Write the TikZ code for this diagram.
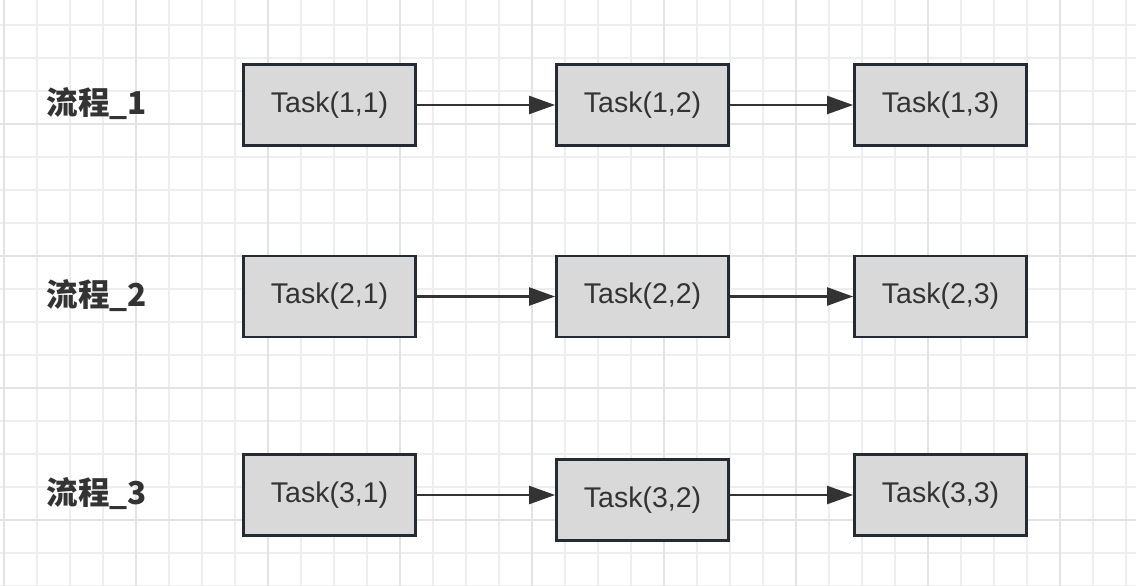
\documentclass[tikz,border=0pt]{standalone}
\usepackage{fontspec}
\setmainfont{Liberation Sans}
\newfontfamily\cjk{Noto Sans CJK SC}
\usetikzlibrary{arrows.meta}
\definecolor{gridminor}{HTML}{EEEEEE}
\definecolor{gridmajor}{HTML}{E3E3E3}
\definecolor{boxfill}{HTML}{D9D9D9}
\definecolor{boxborder}{HTML}{252B32}
\definecolor{textc}{HTML}{333333}
\definecolor{arrowc}{HTML}{333333}
\begin{document}
\begin{tikzpicture}[x=1pt,y=-1pt,
  task/.style={draw=boxborder, fill=boxfill, line width=2.8pt, minimum width=172pt, minimum height=81pt, inner sep=0pt, font=\fontsize{28.5}{31}\selectfont, text=textc},
  flow/.style={font=\cjk\bfseries\fontsize{31.5}{35}\selectfont, text=textc},
  link/.style={draw=arrowc, line width=2.3pt, -{Triangle[length=26pt,width=18pt]}},
  minorline/.style={draw=gridminor, line width=1.5pt},
  majorline/.style={draw=gridmajor, line width=2pt}]
\useasboundingbox (0,0) rectangle (1136,586);
\fill[white] (0,0) rectangle (1136,586);
% grid
\foreach \i in {0,...,34} { \draw[minorline] ({4+33*\i},0) -- ({4+33*\i},586); }
\foreach \j in {0,...,17} { \draw[minorline] (0,{25+33*\j}) -- (1136,{25+33*\j}); }
\foreach \i in {0,...,8} { \draw[majorline] ({4+132*\i},0) -- ({4+132*\i},586); }
\foreach \j in {124,256,388,520} { \draw[majorline] (0,\j) -- (1136,\j); }
% labels
\node[flow] (f1) at (97,104) {流程\_1};
\node[flow] (f2) at (97,296) {流程\_2};
\node[flow] (f3) at (97,494) {流程\_3};
% tasks
\node[task] (t11) at (329.5,105) {Task(1,1)};
\node[task] (t12) at (642.5,105) {Task(1,2)};
\node[task] (t13) at (940.5,105) {Task(1,3)};
\node[task] (t21) at (329.5,296.5) {Task(2,1)};
\node[task] (t22) at (642.5,296.5) {Task(2,2)};
\node[task] (t23) at (940.5,296.5) {Task(2,3)};
\node[task] (t31) at (329.5,495) {Task(3,1)};
\node[task] (t32) at (642.5,500) {Task(3,2)};
\node[task] (t33) at (940.5,495) {Task(3,3)};
% arrows
\draw[link] (t11) -- (t12);
\draw[link] (t12) -- (t13);
\draw[link] (t21) -- (t22);
\draw[link] (t22) -- (t23);
\draw[link] (t31.east) -- (t31.east -| t32.west);
\draw[link] (t32.east |- t33.west) -- (t33.west);
\end{tikzpicture}
\end{document}
